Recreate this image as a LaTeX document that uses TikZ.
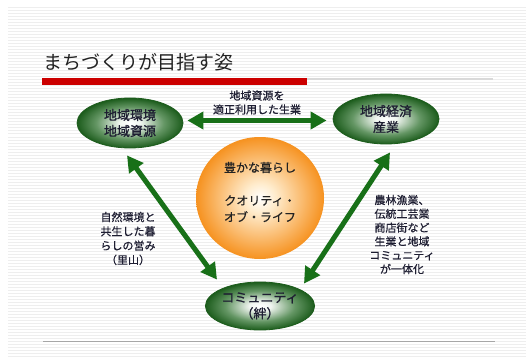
\documentclass[tikz,border=0pt]{standalone}
\usepackage{fontspec}
\setmainfont{Noto Sans CJK JP}
\newfontfamily\cjkbold[FakeBold=1.2]{Noto Sans CJK JP}
\newfontfamily\cjkmed[FakeBold=0.6]{Noto Sans CJK JP}
\usetikzlibrary{shapes.geometric,arrows.meta}
\definecolor{gdk}{RGB}{28,92,28}
\definecolor{gmid}{RGB}{100,150,100}
\definecolor{arr}{RGB}{24,112,24}
\definecolor{orn}{RGB}{246,146,32}
\definecolor{ornl}{RGB}{255,236,205}
\definecolor{txt}{RGB}{30,30,50}
\definecolor{ttl}{RGB}{34,34,34}
\definecolor{redbar}{RGB}{204,0,0}
\definecolor{stripe}{RGB}{238,238,238}
\pgfdeclareradialshading{gshade}{\pgfpoint{0bp}{0bp}}{color(0bp)=(white); color(5bp)=(white!90!gmid); color(16bp)=(gmid); color(25bp)=(gdk); color(50bp)=(gdk)}
\pgfdeclareradialshading{oshade}{\pgfpoint{0bp}{0bp}}{color(0bp)=(white); color(6bp)=(ornl); color(25bp)=(orn); color(50bp)=(orn)}
\tikzset{
  greenell/.style={ellipse, draw=gdk, line width=0.8pt, shading=gshade, inner sep=0pt,
    minimum width=106pt, minimum height=50pt, font=\cjkbold\fontsize{13}{16}\selectfont, text=txt, align=center},
  orangeball/.style={ellipse, shading=oshade, inner sep=0pt, minimum width=128pt, minimum height=122pt},
  lbl/.style={font=\cjkmed\fontsize{11}{14}\selectfont, text=txt, align=center, inner sep=0pt},
  balltext/.style={font=\cjkmed\fontsize{12}{16.5}\selectfont, text=ttl, align=center, inner sep=0pt},
  bigarrow/.style={arr, line width=5pt, {Triangle[length=16pt,width=17pt]}-{Triangle[length=16pt,width=17pt]}},
  stripeline/.style={stripe, line width=1pt}
}
\begin{document}
\begin{tikzpicture}[x=1pt,y=-1pt]
\useasboundingbox (0,0) rectangle (526,358);
% background
\fill[white] (0,0) rectangle (526,358);
\foreach \yy in {8,11,...,356} \draw[stripeline] (8,\yy) -- (526,\yy);
% title
\node[anchor=west, inner sep=0pt, text=ttl, font=\fontsize{19}{22}\selectfont] (title) at (43,62) {まちづくりが目指す姿};
\fill[gray!30] (307,78.5) rectangle (493,80);
\fill[redbar] (42,78) rectangle (307,85);
\fill[gray!70] (43,340.5) rectangle (495,341.5);
% central ball
\node[orangeball] (C) at (260,198) {};
\node[balltext] (Ct) at (260,192) {豊かな暮らし\\[16.5pt]クオリティ・\\オブ・ライフ};
% ellipses
\node[greenell] (L) at (130,123) {地域環境\\地域資源};
\node[greenell] (R) at (386,119) {地域経済\\産業};
\node[greenell, minimum height=48pt] (B) at (260,306) {コミュニティ\\（絆）};
% arrows
\draw[bigarrow] ([xshift=4pt,yshift=2.5pt]L.east) -- ([xshift=-6pt,yshift=-1.5pt]R.west);
\draw[bigarrow] ([xshift=-3pt,yshift=-7pt]L.south) -- ([xshift=-43pt,yshift=2pt]B.north);
\draw[bigarrow] ([xshift=4pt,yshift=-8pt]R.south) -- ([xshift=44pt,yshift=-2pt]B.north);
% labels
\node[lbl] (top) at (257,102.5) {地域資源を\\適正利用した生業};
\node[lbl, font=\cjkmed\fontsize{11}{14.3}\selectfont] (left) at (128,238.5) {自然環境と\\共生した暮\\らしの営み\\（里山）};
\node[lbl, font=\cjkmed\fontsize{11}{13.8}\selectfont] (right) at (402,234.5) {農林漁業、\\伝統工芸業\\商店街など\\生業と地域\\コミュニティ\\が一体化};
\end{tikzpicture}
\end{document}
